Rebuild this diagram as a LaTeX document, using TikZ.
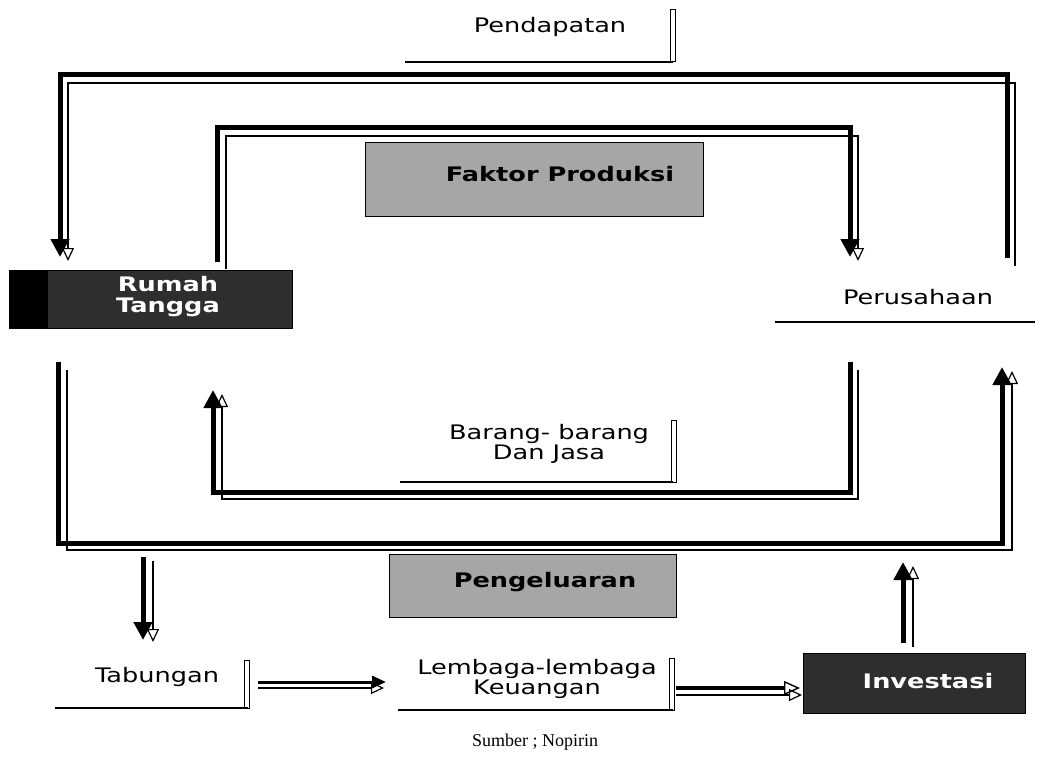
\documentclass[tikz,border=0pt]{standalone}
\usepackage{fontspec}
\setmainfont[FakeStretch=1.28]{DejaVu Sans}
\newfontfamily\srcfont{Liberation Serif}
\usetikzlibrary{arrows.meta}
\tikzset{
  flow/.style={line width=5pt, draw=black, line join=miter},
  flowtip/.style={flow, -{Triangle[length=18pt,width=18pt]}},
  shad/.style={line width=1.4pt, draw=black},
  shadtip/.style={shad, -{Triangle[open,length=13pt,width=12pt,line width=1.2pt]}},
  lbl/.style={font=\fontsize{20}{17}\selectfont, align=center, inner sep=0pt},
  boxlight/.style={draw=black, line width=1pt, fill=black!35, font=\fontsize{20}{17}\selectfont\bfseries, align=center, inner sep=0pt},
  boxdark/.style={draw=black, line width=1pt, fill=black!82, text=white, font=\fontsize{20}{21}\selectfont\bfseries, align=center, inner sep=0pt},
  rule/.style={line width=1.6pt, draw=black},
  bar/.style={line width=1pt, draw=black}
}
\begin{document}
\begin{tikzpicture}[x=1pt,y=-1pt]
\useasboundingbox[fill=white] (0,0) rectangle (1041,762);

% ---------- text nodes ----------
\node[lbl] (pd) at (550,27) {Pendapatan};
\draw[rule] (405,62) -- (673,62);
\draw[bar] (670,10) rectangle (675,62);

\node[boxlight, minimum width=338pt, minimum height=74pt] (fp) at (534,180) {};
\node[lbl, font=\fontsize{20}{17}\selectfont\bfseries] (fpt) at (560,174) {Faktor Produksi};

\node[boxdark, minimum width=283pt, minimum height=58pt] (rt) at (151,299) {};
\fill[black] (10,270) rectangle (48,328);
\node[boxdark, draw=none, fill=none] (rtt) at (168,297) {Rumah\\Tangga};

\node[lbl] (pr) at (918,297) {Perusahaan};
\draw[rule] (775,322) -- (1035,322);

\node[lbl] (bj) at (549,444) {Barang- barang\\Dan Jasa};
\draw[rule] (400,482) -- (673,482);
\draw[bar] (671,420) rectangle (676,482);

\node[boxlight, minimum width=287pt, minimum height=63pt] (pe) at (533,586) {};
\node[lbl, font=\fontsize{20}{17}\selectfont\bfseries] (pet) at (545,582) {Pengeluaran};

\node[lbl] (tb) at (157,677) {Tabungan};
\draw[rule] (55,708) -- (248,708);
\draw[bar] (244,660) rectangle (249,708);

\node[lbl] (lk) at (537,679) {Lembaga-lembaga\\Keuangan};
\draw[rule] (398,710) -- (673,710);
\draw[bar] (669,658) rectangle (674,710);

\node[boxdark, minimum width=222pt, minimum height=60pt] (inv) at (914,683) {};
\node[boxdark, draw=none, fill=none] (invt) at (928,681) {Investasi};

\node[font=\srcfont\fontsize{18}{20}\selectfont, inner sep=0pt] (src) at (535,742) {Sumber ; Nopirin};

% ---------- corner coordinates ----------
\coordinate (a1) at (1007,258); \coordinate (a2) at (1007,75);
\coordinate (a3) at (60,75);    \coordinate (a4) at (60,257);
\coordinate (b1) at (217,262);  \coordinate (b2) at (217,128);
\coordinate (b3) at (850,128);  \coordinate (b4) at (850,257);
\coordinate (c1) at (850,362);  \coordinate (c2) at (850,492);
\coordinate (c3) at (213,492);  \coordinate (c4) at (213,390);
\coordinate (d1) at (58,362);   \coordinate (d2) at (58,543);
\coordinate (d3) at (1002,543); \coordinate (d4) at (1002,367);
\coordinate (e1) at (143,557);  \coordinate (e2) at (143,640);
\coordinate (f1) at (903,643);  \coordinate (f2) at (903,562);
\coordinate (g1) at (258,682);  \coordinate (g2) at (386,682);
\coordinate (h1) at (676,688);  \coordinate (h2) at (800,688);

% ---------- shadows ----------
\draw[shadtip] ([shift={(8,8)}]a1) -- ([shift={(8,8)}]a2) -- ([shift={(8,8)}]a3) -- ([shift={(8,4)}]a4);
\draw[shadtip] ([shift={(9,7)}]b1) -- ([shift={(9,8)}]b2) -- ([shift={(8,8)}]b3) -- ([shift={(8,4)}]b4);
\draw[shadtip] ([shift={(8,8)}]c1) -- ([shift={(8,7)}]c2) -- ([shift={(9,7)}]c3) -- ([shift={(9,4)}]c4);
\draw[shadtip] ([shift={(9,8)}]d1) -- ([shift={(9,7)}]d2) -- ([shift={(10,7)}]d3) -- ([shift={(10,4)}]d4);
\draw[shadtip] ([shift={(10,4)}]e1) -- ([shift={(10,2)}]e2);
\draw[shadtip] ([shift={(10,4)}]f1) -- ([shift={(10,4)}]f2);
\draw[shadtip] ([shift={(0,6)}]g1) -- ([shift={(-2,6)}]g2);
\draw[shadtip] ([shift={(0,7)}]h1) -- ([shift={(2,7)}]h2);

% ---------- main flows ----------
\draw[flowtip] (a1) -- (a2) -- (a3) -- (a4);
\draw[flowtip] (b1) -- (b2) -- (b3) -- (b4);
\draw[flowtip] (c1) -- (c2) -- (c3) -- (c4);
\draw[flowtip] (d1) -- (d2) -- (d3) -- (d4);
\draw[flowtip] (e1) -- (e2);
\draw[flowtip] (f1) -- (f2);
\draw[flowtip, line width=3pt, -{Triangle[length=14pt,width=12pt]}] (g1) -- (g2);
\draw[flowtip, line width=4pt, -{Triangle[open,length=16pt,width=14pt,line width=1.4pt]}] (h1) -- (h2);
\end{tikzpicture}
\end{document}
